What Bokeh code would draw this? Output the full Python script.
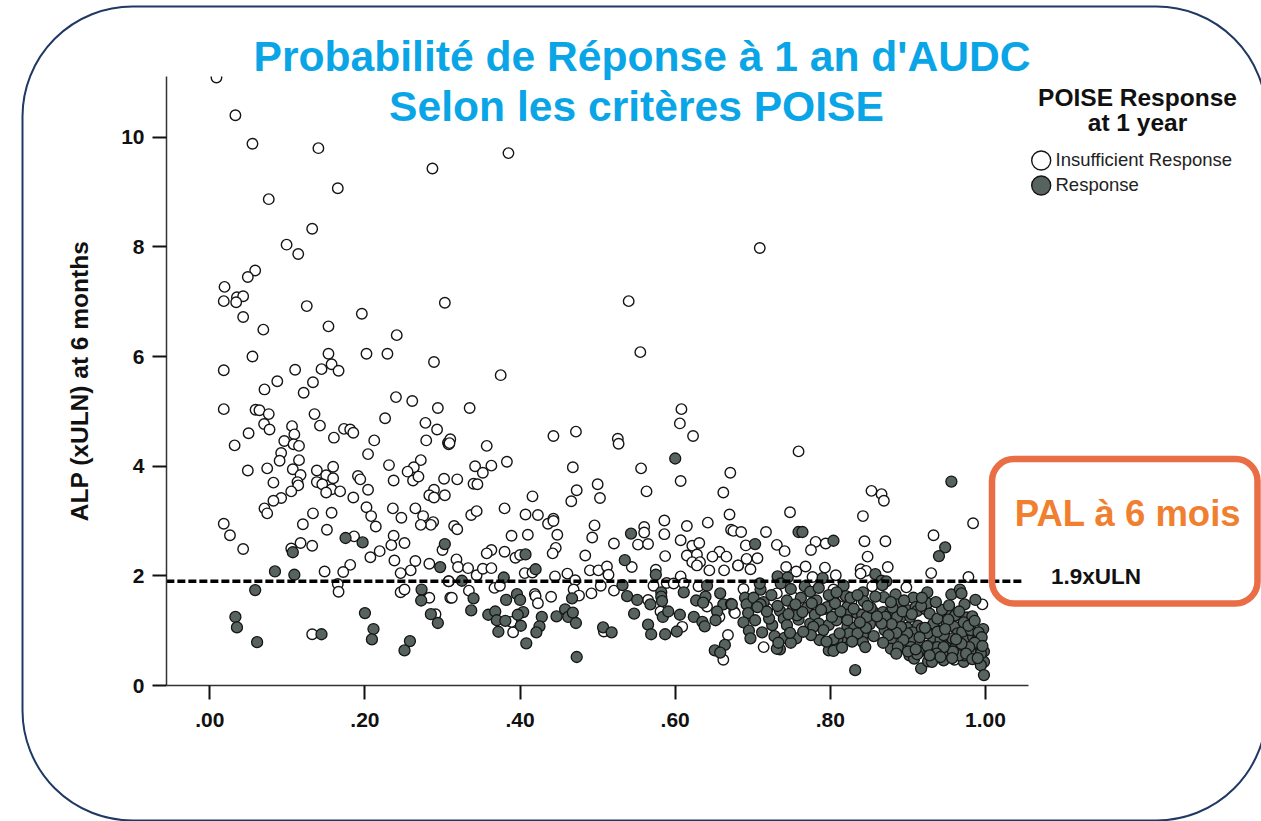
from bokeh.plotting import figure
from bokeh.models import Label, FixedTicker
from bokeh.embed import file_html
from bokeh.resources import INLINE

TITLE_LINES = ["Probabilité de Réponse à 1 an d'AUDC", "Selon les critères POISE"]
LEGEND_TITLE = ["POISE Response", "at 1 year"]
SERIES_NAMES = ["Insufficient Response", "Response"]
Y_LABEL = "ALP (xULN) at 6 months"
X_TICKS = [0, .2, .4, .6, .8, 1.0]
X_TICK_LABELS = [".00", ".20", ".40", ".60", ".80", "1.00"]
Y_TICKS = [0, 2, 4, 6, 8, 10]
THRESHOLD = 1.9
THRESHOLD_SPAN = [-.056, 1.049]

insufficient = [
(.0086,11.09),(.033,10.40),(.055,9.88),(.140,9.80),(.287,9.43),(.165,9.07),(.076,8.87),(.132,8.33),(.099,8.04),(.114,7.87),
(.0585,7.57),(.049,7.45),(.019,7.27),(.035,7.08),(.043,7.10),(.018,7.01),(.034,6.99),(.125,6.92),(.303,6.98),(.043,6.72),
(.196,6.78),(.069,6.49),(.153,6.55),(.241,6.39),(.055,6.00),(.153,6.05),(.202,6.05),(.229,6.05),(.289,5.90),(.157,5.86),
(.018,5.75),(.110,5.76),(.144,5.77),(.166,5.74),(.087,5.55),(.133,5.53),(.0705,5.40),(.121,5.34),(.240,5.26),(.261,5.19),
(.294,5.06),(.018,5.04),(.059,5.03),(.064,5.02),(.076,4.95),(.135,4.95),(.226,4.875),(.142,4.74),(.070,4.77),(.077,4.67),
(.106,4.73),(.278,4.79),(.293,4.67),(.050,4.60),(.109,4.58),(.160,4.52),(.173,4.68),(.181,4.67),(.185,4.61),(.212,4.47),
(.279,4.47),(.096,4.46),(.108,4.40),(.115,4.37),(.032,4.38),(.307,4.43),(.308,4.40),(.204,4.22),(.092,4.24),(.090,4.10),
(.115,4.11),(.272,4.11),(.231,4.02),(.263,3.98),(.255,3.90),(.049,3.92),(.074,3.96),(.107,3.945),(.138,3.92),(.159,3.99),
(.150,3.835),(.159,3.78),(.117,3.84),(.191,3.82),(.194,3.76),(.237,3.74),(.262,3.74),(.269,3.81),(.302,3.77),(.082,3.70),
(.113,3.71),(.114,3.65),(.138,3.71),(.145,3.67),(.157,3.58),(.150,3.52),(.168,3.54),(.105,3.54),(.204,3.57),(.289,3.57),
(.283,3.47),(.289,3.43),(.303,3.47),(.092,3.42),(.082,3.37),(.185,3.43),(.0705,3.23),(.074,3.14),(.202,3.25),(.236,3.23),
(.265,3.23),(.133,3.14),(.157,3.15),(.208,3.09),(.247,3.06),(.275,3.09),(.288,2.98),(.285,2.93),(.272,2.93),(.315,2.91),
(.018,2.95),(.120,2.94),(.214,2.90),(.026,2.74),(.151,2.84),(.237,2.73),(.186,2.72),(.251,2.60),(.234,2.56),(.117,2.60),
(.132,2.55),(.105,2.50),(.043,2.49),(.219,2.45),(.207,2.34),(.300,2.47),(.238,2.28),(.265,2.27),(.283,2.22),(.181,2.20),
(.148,2.08),(.172,2.07),(.259,2.10),(.246,2.05),(.308,1.90),(.165,1.85),(.166,1.71),(.246,1.70),(.251,1.75),(.283,1.60),
(.310,1.60),(.291,1.30),(.132,.935),
(.310,4.49),(.309,4.42),(.357,4.37),(.443,4.55),(.472,4.63),(.526,4.50),(.527,4.41),(.606,4.78),(.623,4.55),(.383,4.08),
(.342,4.00),(.363,4.01),(.352,3.88),(.468,3.98),(.556,3.96),(.671,3.88),(.607,3.73),(.319,3.76),(.340,3.68),(.345,3.67),
(.500,3.67),(.473,3.56),(.466,3.36),(.503,3.42),(.563,3.54),(.662,3.52),(.416,3.45),(.380,3.23),(.337,3.11),(.344,3.18),
(.407,3.12),(.423,3.11),(.436,2.95),(.443,3.04),(.443,3.00),(.496,2.92),(.586,3.01),(.560,2.89),(.560,2.79),(.586,2.76),
(.615,2.91),(.642,2.97),(.670,3.12),(.672,2.84),(.675,2.82),(.319,2.85),(.389,2.73),(.410,2.75),(.448,2.75),(.493,2.70),
(.521,2.59),(.552,2.57),(.565,2.58),(.607,2.65),(.622,2.55),(.631,2.60),(.446,2.51),(.442,2.41),(.363,2.47),(.357,2.41),
(.380,2.44),(.484,2.37),(.394,2.33),(.400,2.38),(.587,2.36),(.615,2.37),(.628,2.39),(.657,2.44),(.666,2.35),(.648,2.35),
(.622,2.25),(.632,2.25),(.628,2.19),(.644,2.10),(.663,2.10),(.681,2.19),(.318,2.30),(.320,2.16),(.333,2.14),(.344,2.01),
(.352,2.13),(.363,2.14),(.544,2.16),(.406,2.05),(.416,2.06),(.490,2.10),(.501,2.10),(.512,2.17),(.514,2.02),(.445,1.99),
(.461,2.04),(.471,1.92),(.575,2.11),(.607,1.99),(.308,1.90),(.367,1.78),(.374,1.82),(.334,1.73),(.312,1.60),(.469,1.75),
(.476,1.64),(.492,1.68),(.504,1.82),(.521,1.73),(.572,1.82),(.589,1.87),(.598,1.86),(.611,1.86),(.630,1.81),(.419,1.67),
(.420,1.63),(.423,1.50),(.440,1.62),(.565,1.56),(.641,1.44),(.676,1.34),(.581,1.35),(.657,1.25),(.609,1.07),(.508,.985),
(.391,.97),(.389,1.16),(.668,.92),(.662,.47),
(.748,3.16),(.685,2.80),(.717,2.80),(.853,3.55),(.866,3.49),(.869,3.37),(.842,3.09),(.984,2.96),(.933,2.74),(.691,2.555),
(.731,2.565),(.741,2.45),(.781,2.62),(.794,2.59),(.775,2.47),(.844,2.63),(.871,2.63),(.848,2.35),(.692,2.31),(.706,2.32),
(.681,2.19),(.697,2.12),(.743,2.16),(.756,2.08),(.768,2.17),(.793,2.15),(.839,2.12),(.846,2.09),(.839,2.04),(.874,2.16),
(.930,2.05),(.777,1.98),(.807,2.01),(.978,1.98),(.688,1.76),(.731,1.68),(.804,1.75),(.854,1.81),(.898,1.79),(.996,1.48),
(.714,.70),(.677,1.32),(.719,1.40),(.753,1.60),(.817,1.62),(.827,1.52),(.960,.47),
(.709,7.98),(.540,7.01),(.555,6.08),(.759,4.27),(.608,5.04),(.335,5.06),(.385,9.71),(.375,5.66),
]

response = [
(.175,2.69),(.197,2.61),(.107,2.43),(.303,2.58),(.297,2.16),(.084,2.08),(.109,2.02),(.0585,1.74),(.273,1.75),(.2725,1.55),
(.033,1.25),(.035,1.06),(.061,.79),(.144,.935),(.200,1.32),(.211,1.03),(.209,.84),(.258,.81),(.251,.64),(.285,1.30),(.294,1.14),
(.600,4.14),(.543,2.77),(.407,2.39),(.535,2.285),(.420,2.12),(.379,1.97),(.325,1.91),(.575,2.02),(.532,1.83),(.538,1.63),
(.551,1.56),(.568,1.48),(.582,1.70),(.582,1.62),(.583,1.54),(.611,1.70),(.641,1.82),(.658,1.68),(.627,1.55),(.639,1.62),
(.636,1.51),(.662,1.48),(.672,1.49),(.654,1.35),(.340,1.59),(.337,1.37),(.359,1.29),(.368,1.35),(.370,1.19),(.381,1.18),
(.372,.98),(.382,1.56),(.396,1.665),(.400,1.56),(.404,1.34),(.397,1.29),(.401,1.09),(.408,.77),(.428,1.25),(.425,1.08),
(.421,.97),(.447,1.26),(.458,1.39),(.462,1.25),(.468,1.33),(.472,1.14),(.467,1.59),(.473,.52),(.507,1.06),(.518,.97),
(.547,1.31),(.565,1.11),(.569,.935),(.587,.935),(.602,.985),(.584,1.25),(.591,1.35),(.606,1.29),(.624,1.25),(.635,1.16),
(.638,1.08),(.652,1.19),(.651,.64),(.664,.74),(.658,.60),
(.956,3.72),(.948,2.52),(.940,2.36),(.703,2.58),(.759,2.80),(.764,2.80),(.804,2.64),(.858,2.03),(.732,1.99),(.745,1.97),
(.790,1.96),(.866,1.91),(.872,1.90),(.710,1.75),(.709,1.86),(.736,1.86),(.749,1.76),(.767,1.81),(.774,1.71),(.785,1.78),
(.817,1.82),(.820,1.63),(.842,1.70),(.867,1.83),(.869,1.61),(.884,1.66),(.925,1.70),(.907,1.60),(.956,1.66),(.967,1.75),
(.969,1.68),(.987,1.56),(.973,1.48),(.673,1.48),(.690,1.60),(.692,1.48),(.701,1.60),(.714,1.52),(.710,1.48),(.744,1.55),
(.782,1.55),(.803,1.48),(.843,1.54),(.752,1.40),(.735,1.36),(.770,1.42),(.793,1.40),(.822,1.43),(.822,1.29),(.834,1.32),
(.841,1.29),(.855,1.35),(.868,1.34),(.877,1.33),(.887,1.48),(.891,1.25),(.901,1.37),(.910,1.43),(.912,1.36),(.923,1.39),
(.925,1.50),(.946,1.28),(.954,1.36),(.961,1.28),(.976,1.24),(.983,1.26),(.694,1.32),(.703,1.19),(.688,1.15),(.725,1.10),
(.740,1.22),(.744,1.10),(.759,1.20),(.757,1.28),(.774,1.13),(.780,1.29),(.785,1.13),(.798,1.105),(.808,1.19),(.791,1.01),
(.778,1.07),(.822,1.07),(.831,1.05),(.851,1.12),(.870,1.01),(.873,1.21),(.884,1.10),(.899,1.05),(.913,1.09),(.930,1.07),
(.950,1.13),(.960,1.07),(.941,1.00),(.977,.95),(.997,1.03),(.695,1.00),(.712,.97),(.728,.90),(.697,.86),(.741,.87),
(.756,.86),(.749,.78),(.786,.83),(.815,.86),(.809,.84),(.804,.84),(.856,.90),(.842,.92),(.842,.79),(.878,.83),
(.892,.92),(.906,.97),(.906,.84),(.897,.72),(.916,.75),(.933,.84),(.933,.69),(.952,.75),(.961,.69),(.972,.83),
(.984,.89),(.991,.73),(.987,.58),(.998,.62),(.998,.43),(.994,.37),(.998,.19),(.735,.66),(.731,.67),(.798,.64),
(.804,.63),(.815,.69),(.832,.28),(.878,.67),(.891,.71),(.902,.55),(.908,.49),(.917,.31),(.926,.44),(.931,.43),
(.946,.46),(.972,.43),(.972,.55),(.981,.61),(.951,.63),(.920,.64),
(.942,.83),(.925,.95),(.964,.95),(.970,.98),(.981,1.01),(.957,.86),(.946,.92),(.918,1.04),(.933,1.13),(.903,1.25),
(.886,1.25),(.871,1.25),(.847,1.25),(.822,1.19),(.802,1.25),(.796,1.43),(.764,1.34),(.721,1.22),(.824,.95),(.835,.95),
(.989,.83),(.994,.58),(.966,.55),(.938,.70),(.914,.61),(.899,.95),(.891,1.07),
(.880,1.42),(.893,1.35),(.905,1.30),(.917,1.45),(.928,1.31),(.938,1.22),(.944,1.38),(.952,1.20),(.966,1.35),(.972,1.15),
(.978,1.09),(.986,1.18),(.991,.97),(.995,.88),(.986,.78),(.979,.70),(.969,.76),(.958,.62),(.946,.70),(.937,.58),
(.925,.72),(.912,.57),(.904,.70),(.894,.83),(.885,.96),(.879,1.12),(.875,.92),(.866,1.13),(.860,1.26),(.852,1.42),
(.846,1.05),(.838,1.15),(.830,1.40),(.826,1.60),(.813,1.35),(.806,1.50),(.798,1.65),(.788,1.38),(.776,1.50),(.762,1.60),
(.755,1.48),(.746,1.30),(.732,1.45),(.724,1.65),(.718,1.35),(.706,1.43),(.868,.78),(.887,.70),(.900,.62),(.915,.88),
(.922,1.05),(.938,.98),(.948,1.03),(.962,.84),(.975,.58),(.983,.48),(.990,.50),(.996,.72),(.957,.50),(.942,.52),
(.928,.55),(.910,.66),(.885,.58),(.953,1.46),(.936,1.52),(.918,1.60),(.895,1.55),(.878,1.52),(.858,1.62),(.848,1.45),
(.835,1.65),(.808,1.70),(.845,.70),(.828,.80),(.812,.95),(.795,.80),(.775,.92),(.765,.98),(.748,.96),(.733,.78),
]

open_x = [a for a, _ in insufficient]
open_y = [b for _, b in insufficient]
fill_x = [a for a, _ in response]
fill_y = [b for _, b in response]

W, H = 1261, 821
L, R, T, B = 166, 1028, 76, 685
xscale = 775.7
yscale = 54.83

p = figure(width=W, height=H, output_backend="svg", toolbar_location=None,
           x_range=((L - 209.3) / xscale, (R - 209.3) / xscale),
           y_range=(0, (B - T) / yscale),
           min_border_left=L, min_border_right=W - R, min_border_top=T, min_border_bottom=H - B,
           background_fill_color="white", border_fill_color="white",
           outline_line_color=None)
p.grid.visible = False

FONT = "Liberation Sans"
for ax in (p.xaxis[0], p.yaxis[0]):
    ax.axis_line_color = "#333333"
    ax.axis_line_width = 1.5
    ax.major_tick_line_color = "#111111"
    ax.major_tick_line_width = 2
    ax.major_tick_in = 0
    ax.major_tick_out = 14
    ax.minor_tick_line_color = None
    ax.major_label_text_font = FONT
    ax.major_label_text_font_style = "bold"
    ax.major_label_text_font_size = "21px"
    ax.major_label_text_color = "#111111"

p.xaxis[0].major_label_standoff = 13
p.yaxis[0].major_label_standoff = 8
p.xaxis[0].ticker = FixedTicker(ticks=X_TICKS)
p.xaxis[0].major_label_overrides = dict(zip(X_TICKS, X_TICK_LABELS))
p.yaxis[0].ticker = FixedTicker(ticks=Y_TICKS)
p.yaxis[0].axis_label = Y_LABEL
p.yaxis[0].axis_label_text_font = FONT
p.yaxis[0].axis_label_text_font_style = "bold"
p.yaxis[0].axis_label_text_font_size = "24.5px"
p.yaxis[0].axis_label_text_color = "#111111"
p.yaxis[0].axis_label_standoff = 25

OUT = "#151515"
GREY = "#57635F"
p.scatter(open_x, open_y, size=10.5, marker="circle", fill_color="white", line_color=OUT, line_width=1.4)
p.scatter(fill_x, fill_y, size=11, marker="circle", fill_color=GREY, line_color=OUT, line_width=1.3)
p.line(THRESHOLD_SPAN, [THRESHOLD, THRESHOLD], line_color="black", line_width=3.5, line_dash="8 3")

# overlay root: slide frame, titles, legend and call-out, on top of the chart
ov = figure(width=W, height=H, output_backend="svg", toolbar_location=None,
            x_range=(0, W), y_range=(H, 0), min_border=0, outline_line_color=None,
            background_fill_alpha=0, border_fill_alpha=0,
            x_axis_location=None, y_axis_location=None,
            styles={"position": "absolute", "left": "0px", "top": "0px"})
ov.grid.visible = False

ov.quad(left=[22], right=[1266], top=[6], bottom=[820], fill_alpha=0,
        line_color="#1F3864", line_width=2, border_radius=110)
ov.quad(left=[991.5], right=[1257], top=[458.5], bottom=[603], fill_alpha=0,
        line_color="#E96E45", line_width=6.5, border_radius=22)

def text(x, py, s, size, color, bold=True, align="center"):
    ov.add_layout(Label(x=x, y=py, text=s,
                        text_font=FONT, text_font_style="bold" if bold else "normal",
                        text_font_size=size, text_color=color, text_align=align, text_baseline="middle"))

text(641.5, 55, TITLE_LINES[0], "42.6px", "#0AA5E6")
text(636, 105, TITLE_LINES[1], "42.6px", "#0AA5E6")
text(1137, 97, LEGEND_TITLE[0], "24.5px", "#111111")
text(1137, 122, LEGEND_TITLE[1], "24.5px", "#111111")
text(1127.5, 513, "PAL à 6 mois", "36.5px", "#F08030")
text(1095.5, 576, "1.9xULN", "22.5px", "#111111")

ov.scatter([1040.7], [160], size=19, marker="circle", fill_color="white", line_color=OUT, line_width=1.4)
ov.scatter([1040.7], [185], size=19, marker="circle", fill_color=GREY, line_color=OUT, line_width=1.4)
text(1055, 159, SERIES_NAMES[0], "18.5px", "#222222", bold=False, align="left")
text(1055, 184, SERIES_NAMES[1], "18.5px", "#222222", bold=False, align="left")

open("out.html", "w").write(file_html((p, ov), INLINE))
